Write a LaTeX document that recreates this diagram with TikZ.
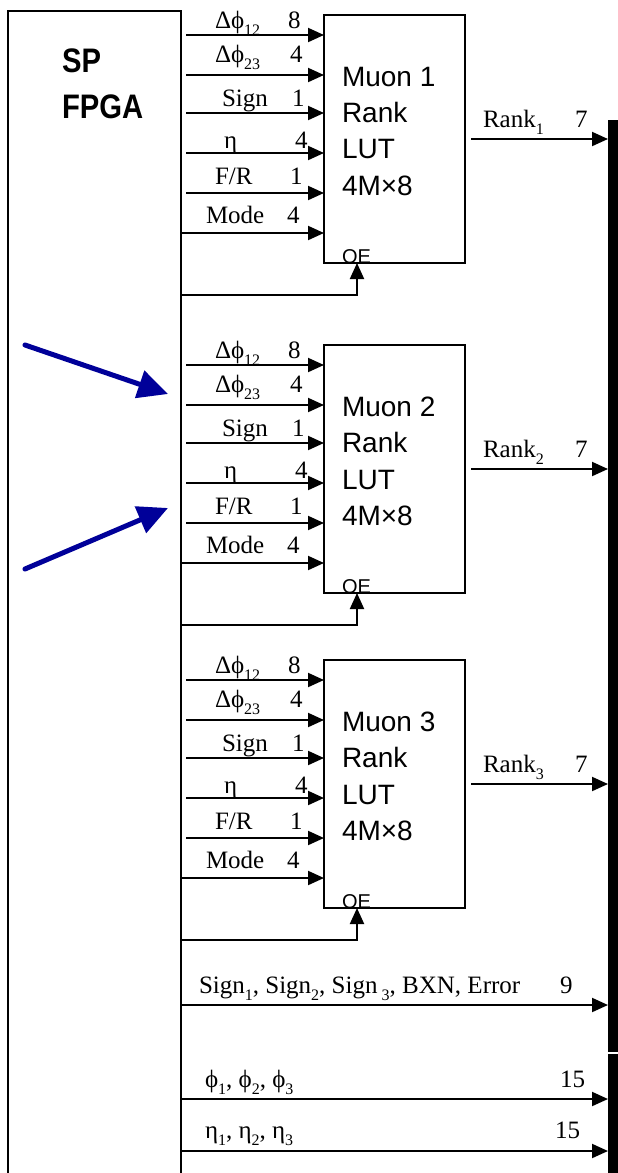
\documentclass[tikz,border=0pt]{standalone}
\usepackage{fontspec}
\setmainfont{Liberation Serif}
\setsansfont{Liberation Sans}
\usepackage{tikz}
\usetikzlibrary{arrows.meta,positioning}

\definecolor{pointerblue}{RGB}{0,0,153}
\newcommand{\lowsub}[1]{\raisebox{-7pt}{\fontsize{16}{16}\selectfont #1}}

\begin{document}
\begin{tikzpicture}[
      x=1pt,
      y=-1pt,
      every node/.style={font=\fontsize{25}{25}\selectfont, inner sep=0pt, outer sep=0pt},
      wire/.style={line width=2pt, -{Triangle[length=16pt,width=14pt]}},
      pointer/.style={pointerblue, line width=5pt, line cap=round, -{Triangle[length=30pt,width=28pt]}},
      lutbox/.style={draw, line width=2pt, minimum width=141pt, minimum height=248pt},
      luttext/.style={anchor=north west, align=left, font=\sffamily\fontsize{28}{36.3}\selectfont},
      oetext/.style={anchor=base west, font=\sffamily\fontsize{20}{20}\selectfont},
      fpgatext/.style={anchor=base west, font=\sffamily\bfseries\fontsize{34}{34}\selectfont},
      lbl/.style={anchor=base west}
    ]

    \useasboundingbox (0,0) rectangle (618,1173);
    \clip (0,0) rectangle (618,1173);

    % SP FPGA
    \node[
      draw,
      line width=2pt,
      minimum width=173pt,
      minimum height=1200pt,
      anchor=north west
    ] (fpga) at (8,11) {};
    \node[fpgatext] (sp) at (62,72) {\scalebox{0.86}[1]{SP}};
    \node[fpgatext] (fpganame) at (62,118) {\scalebox{0.86}[1]{FPGA}};

    % Output bus
    \node[fill=black, minimum width=10pt, minimum height=932pt, anchor=north west] (bus) at (608,120) {};
    \node[fill=black, minimum width=10pt, minimum height=130pt, anchor=north west] (bustail) at (608,1054) {};

    % Muon 1
    \node[lutbox] (lut1) at (394.5,139) {};
    \node[luttext] (lut1t) at (342,67) {Muon 1\\Rank\\LUT\\4M×8};
    \node[oetext] (oe1t) at (342,263) {OE};

    \coordinate (a1) at (186,35);
    \coordinate (b1) at (186,75);
    \coordinate (c1) at (186,113);
    \coordinate (d1) at (186,153);
    \coordinate (e1) at (186,193);
    \coordinate (f1) at (182,233);
    \coordinate (oe1) at (182,295);
    \coordinate (r1) at (471,139);

    \draw[wire] (a1) -- (a1 -| lut1.west);
    \draw[wire] (b1) -- (b1 -| lut1.west);
    \draw[wire] (c1) -- (c1 -| lut1.west);
    \draw[wire] (d1) -- (d1 -| lut1.west);
    \draw[wire] (e1) -- (e1 -| lut1.west);
    \draw[wire] (f1) -- (f1 -| lut1.west);
    \draw[wire] (oe1) -| ([xshift=-37.5pt]lut1.south);
    \draw[wire] (r1) -- (r1 -| bus.west);

    \node[lbl] (a1l) at (215,28) {Δϕ\lowsub{12}};
    \node[lbl] (a1n) at (288,28) {8};
    \node[lbl] (b1l) at (215,62) {Δϕ\lowsub{23}};
    \node[lbl] (b1n) at (290,62) {4};
    \node[lbl] (c1l) at (222,106) {Sign};
    \node[lbl] (c1n) at (292,106) {1};
    \node[lbl] (d1l) at (224,148) {η};
    \node[lbl] (d1n) at (295,148) {4};
    \node[lbl] (e1l) at (215,184) {F/R};
    \node[lbl] (e1n) at (290,184) {1};
    \node[lbl] (f1l) at (206,223) {Mode};
    \node[lbl] (f1n) at (287,223) {4};
    \node[lbl] (r1l) at (483,127) {Rank\lowsub{1}};
    \node[lbl] (r1n) at (575,127) {7};

    % Muon 2
    \node[lutbox] (lut2) at (394.5,469) {};
    \node[luttext] (lut2t) at (342,397) {Muon 2\\Rank\\LUT\\4M×8};
    \node[oetext] (oe2t) at (342,593) {OE};

    \coordinate (a2) at (186,365);
    \coordinate (b2) at (186,405);
    \coordinate (c2) at (186,443);
    \coordinate (d2) at (186,483);
    \coordinate (e2) at (186,523);
    \coordinate (f2) at (182,563);
    \coordinate (oe2) at (182,625);
    \coordinate (r2) at (471,469);

    \draw[wire] (a2) -- (a2 -| lut2.west);
    \draw[wire] (b2) -- (b2 -| lut2.west);
    \draw[wire] (c2) -- (c2 -| lut2.west);
    \draw[wire] (d2) -- (d2 -| lut2.west);
    \draw[wire] (e2) -- (e2 -| lut2.west);
    \draw[wire] (f2) -- (f2 -| lut2.west);
    \draw[wire] (oe2) -| ([xshift=-37.5pt]lut2.south);
    \draw[wire] (r2) -- (r2 -| bus.west);

    \node[lbl] (a2l) at (215,358) {Δϕ\lowsub{12}};
    \node[lbl] (a2n) at (288,358) {8};
    \node[lbl] (b2l) at (215,392) {Δϕ\lowsub{23}};
    \node[lbl] (b2n) at (290,392) {4};
    \node[lbl] (c2l) at (222,436) {Sign};
    \node[lbl] (c2n) at (292,436) {1};
    \node[lbl] (d2l) at (224,478) {η};
    \node[lbl] (d2n) at (295,478) {4};
    \node[lbl] (e2l) at (215,514) {F/R};
    \node[lbl] (e2n) at (290,514) {1};
    \node[lbl] (f2l) at (206,553) {Mode};
    \node[lbl] (f2n) at (287,553) {4};
    \node[lbl] (r2l) at (483,457) {Rank\lowsub{2}};
    \node[lbl] (r2n) at (575,457) {7};

    % Muon 3
    \node[lutbox] (lut3) at (394.5,784) {};
    \node[luttext] (lut3t) at (342,712) {Muon 3\\Rank\\LUT\\4M×8};
    \node[oetext] (oe3t) at (342,908) {OE};

    \coordinate (a3) at (186,680);
    \coordinate (b3) at (186,720);
    \coordinate (c3) at (186,758);
    \coordinate (d3) at (186,798);
    \coordinate (e3) at (186,838);
    \coordinate (f3) at (182,878);
    \coordinate (oe3) at (182,940);
    \coordinate (r3) at (471,784);

    \draw[wire] (a3) -- (a3 -| lut3.west);
    \draw[wire] (b3) -- (b3 -| lut3.west);
    \draw[wire] (c3) -- (c3 -| lut3.west);
    \draw[wire] (d3) -- (d3 -| lut3.west);
    \draw[wire] (e3) -- (e3 -| lut3.west);
    \draw[wire] (f3) -- (f3 -| lut3.west);
    \draw[wire] (oe3) -| ([xshift=-37.5pt]lut3.south);
    \draw[wire] (r3) -- (r3 -| bus.west);

    \node[lbl] (a3l) at (215,673) {Δϕ\lowsub{12}};
    \node[lbl] (a3n) at (288,673) {8};
    \node[lbl] (b3l) at (215,707) {Δϕ\lowsub{23}};
    \node[lbl] (b3n) at (290,707) {4};
    \node[lbl] (c3l) at (222,751) {Sign};
    \node[lbl] (c3n) at (292,751) {1};
    \node[lbl] (d3l) at (224,793) {η};
    \node[lbl] (d3n) at (295,793) {4};
    \node[lbl] (e3l) at (215,829) {F/R};
    \node[lbl] (e3n) at (290,829) {1};
    \node[lbl] (f3l) at (206,868) {Mode};
    \node[lbl] (f3n) at (287,868) {4};
    \node[lbl] (r3l) at (483,772) {Rank\lowsub{3}};
    \node[lbl] (r3n) at (575,772) {7};

    % Shared outputs
    \coordinate (sg) at (182,1005);
    \coordinate (ph) at (182,1099);
    \coordinate (et) at (182,1151);

    \draw[wire] (sg) -- (sg -| bus.west);
    \draw[wire] (ph) -- (ph -| bustail.west);
    \draw[wire] (et) -- (et -| bustail.west);

    \node[lbl] (sgl) at (199,993) {Sign\lowsub{1}, Sign\lowsub{2}, Sign\,\lowsub{3}, BXN, Error};
    \node[lbl] (sgn) at (560,993) {9};
    \node[lbl] (phl) at (205,1087) {ϕ\lowsub{1}, ϕ\lowsub{2}, ϕ\lowsub{3}};
    \node[lbl] (phn) at (560,1087) {15};
    \node[lbl] (etl) at (205,1138) {η\lowsub{1}, η\lowsub{2}, η\lowsub{3}};
    \node[lbl] (etn) at (555,1138) {15};

    % Pointers
    \coordinate (p1) at (25,345);
    \coordinate (p1t) at (168,394);
    \coordinate (p2) at (25,569);
    \coordinate (p2t) at (168,508);

    \draw[pointer] (p1) -- (p1t);
    \draw[pointer] (p2) -- (p2t);

  \end{tikzpicture}
\end{document}
